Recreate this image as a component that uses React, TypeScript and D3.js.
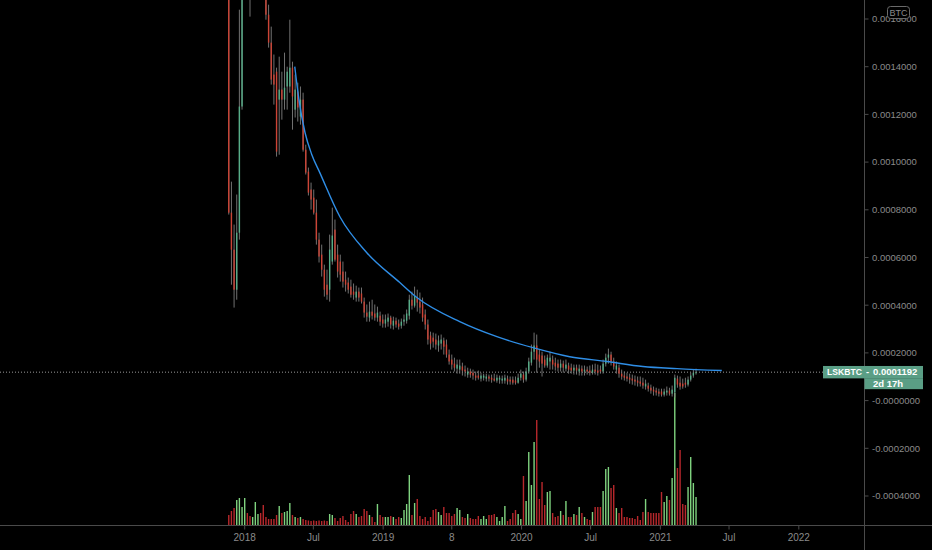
import React, { useEffect, useRef } from "react";
import * as d3 from "d3";

const WIDTH = 932;
const HEIGHT = 550;

// weekly LSK/BTC candles, prices in µBTC (1e-6 BTC)
const FIRST_WEEK = "2017-11-20";

const opens = [
  2101, 788, 633, 465, 704, 1233, 2017, 2520, 2310, 1933,
  2185, 2394, 2436, 2059, 1765, 1618, 1501, 1367, 1379, 1262,
  1304, 1262, 1317, 1317, 1396, 1220, 1296, 1191, 1262, 1052,
  960, 885, 851, 788, 675, 612, 549, 486, 465, 583,
  717, 612, 583, 541, 507, 495, 478, 457, 432, 457,
  449, 415, 369, 348, 373, 365, 348, 356, 340, 323,
  331, 348, 314, 335, 323, 314, 331, 335, 356, 423,
  398, 432, 415, 403, 361, 319, 273, 264, 256, 231,
  239, 252, 235, 193, 172, 155, 134, 130, 143, 130,
  109, 122, 117, 105, 105, 92, 96, 92, 101, 96,
  92, 84, 88, 84, 84, 92, 88, 88, 84, 75,
  96, 109, 88, 122, 159, 205, 231, 193, 189, 172,
  147, 164, 172, 159, 155, 138, 155, 134, 147, 138,
  126, 138, 122, 134, 122, 130, 126, 117, 130, 126,
  130, 122, 155, 180, 193, 164, 130, 138, 113, 105,
  101, 96, 92, 88, 84, 80, 75, 59, 63, 54,
  46, 42, 38, 38, 25, 34, 42, 29, 34, 92,
  75, 71, 75, 67, 88, 105, 117,
];

const highs = [
  2310, 918, 738, 864, 1639, 2310, 2772, 2856, 2520, 2352,
  2604, 2688, 2520, 2185, 1849, 1660, 1568, 1451, 1396, 1442,
  1379, 1459, 1400, 1597, 1421, 1367, 1333, 1317, 1291, 1073,
  977, 914, 885, 843, 704, 654, 570, 549, 696, 809,
  759, 654, 612, 583, 541, 516, 507, 491, 482, 474,
  474, 432, 403, 415, 423, 403, 394, 373, 361, 361,
  365, 356, 352, 348, 340, 344, 361, 382, 444, 457,
  478, 465, 453, 432, 382, 340, 289, 285, 281, 273,
  277, 264, 256, 214, 193, 180, 172, 172, 159, 147,
  138, 134, 130, 122, 126, 117, 113, 113, 109, 109,
  113, 109, 105, 105, 109, 105, 101, 101, 101, 113,
  130, 122, 138, 180, 235, 285, 277, 214, 205, 189,
  193, 205, 189, 180, 172, 172, 168, 172, 159, 155,
  151, 151, 151, 147, 147, 143, 147, 151, 155, 151,
  147, 172, 197, 218, 205, 180, 164, 151, 130, 122,
  117, 113, 109, 105, 101, 101, 96, 88, 75, 67,
  59, 54, 50, 50, 50, 59, 54, 63, 109, 105,
  101, 92, 96, 101, 117, 130, 134,
];

const lows = [
  780, 486, 390, 423, 675, 1220, 1975, 2185, 1610, 1807,
  2059, 2227, 1933, 1702, 1597, 1480, 1325, 1241, 1023, 1031,
  1178, 1220, 1220, 1291, 1136, 1187, 1170, 1157, 1044, 948,
  860, 801, 780, 654, 579, 520, 436, 423, 415, 570,
  583, 516, 499, 474, 457, 449, 432, 423, 415, 415,
  407, 348, 331, 331, 340, 335, 331, 314, 306, 306,
  310, 302, 298, 306, 298, 302, 314, 323, 340, 382,
  390, 373, 365, 331, 298, 235, 214, 222, 214, 205,
  214, 193, 180, 151, 130, 122, 113, 113, 105, 101,
  96, 96, 88, 84, 88, 80, 84, 80, 80, 75,
  80, 75, 71, 71, 71, 67, 67, 67, 67, 71,
  84, 75, 80, 113, 147, 172, 117, 138, 101, 138,
  138, 130, 130, 126, 122, 122, 117, 122, 113, 113,
  109, 109, 105, 105, 105, 109, 105, 109, 109, 105,
  113, 113, 143, 155, 147, 130, 113, 96, 88, 84,
  80, 71, 67, 63, 59, 59, 50, 46, 38, 29,
  21, 21, 17, 17, 17, 21, 21, 17, 13, 54,
  46, 50, 54, 59, 80, 96, 109,
];

const closes = [
  788, 633, 465, 704, 1233, 2017, 2520, 2310, 1933, 2185,
  2394, 2436, 2059, 1765, 1618, 1501, 1346, 1325, 1044, 1304,
  1262, 1312, 1379, 1396, 1275, 1304, 1229, 1262, 1052, 956,
  872, 843, 788, 675, 604, 549, 465, 444, 633, 692,
  591, 541, 528, 499, 486, 465, 444, 444, 457, 432,
  415, 369, 352, 373, 356, 348, 369, 331, 323, 340,
  348, 319, 335, 319, 310, 331, 340, 365, 423, 398,
  440, 411, 390, 348, 319, 256, 239, 247, 235, 252,
  256, 226, 193, 164, 151, 138, 151, 147, 126, 122,
  122, 109, 105, 96, 96, 105, 105, 101, 92, 88,
  84, 96, 96, 92, 96, 80, 80, 75, 75, 96,
  113, 88, 122, 164, 205, 231, 172, 164, 155, 147,
  180, 180, 151, 143, 138, 155, 138, 151, 130, 126,
  138, 126, 134, 122, 130, 122, 117, 130, 122, 117,
  122, 155, 180, 193, 164, 143, 147, 113, 101, 96,
  92, 88, 84, 80, 75, 71, 63, 71, 50, 42,
  38, 34, 29, 25, 38, 42, 29, 46, 96, 67,
  59, 59, 67, 88, 105, 117, 119.2,
];

const volumes = [
  100, 140, 170, 250, 270, 180, 270, 120, 90, 80,
  230, 110, 120, 200, 80, 60, 60, 60, 100, 190,
  120, 130, 140, 220, 100, 80, 70, 80, 60, 50,
  45, 40, 45, 40, 45, 40, 45, 40, 110, 100,
  70, 40, 70, 90, 50, 30, 110, 140, 110, 80,
  90, 160, 140, 100, 80, 30, 210, 100, 80, 80,
  80, 90, 80, 60, 80, 70, 150, 210, 500, 100,
  220, 260, 90, 60, 80, 40, 80, 150, 160, 130,
  100, 180, 120, 120, 90, 110, 170, 150, 80, 70,
  110, 70, 60, 60, 90, 60, 90, 60, 100, 100,
  110, 80, 40, 80, 190, 40, 60, 120, 150, 110,
  60, 490, 240, 730, 400, 830, 1050, 260, 430, 200,
  330, 340, 120, 80, 90, 140, 100, 240, 80, 80,
  110, 100, 180, 120, 80, 60, 50, 130, 180, 180,
  180, 340, 560, 580, 370, 400, 170, 120, 170, 80,
  80, 70, 70, 60, 90, 50, 130, 260, 130, 120,
  120, 120, 120, 330, 230, 290, 250, 470, 1320, 570,
  750, 210, 200, 380, 680, 420, 280,
];

const priceTicks = [-0.0004, -0.0002, 0, 0.0002, 0.0004, 0.0006, 0.0008, 0.001, 0.0012, 0.0014, 0.0016];
const timeTicks = ["2018-01-01", "2018-07-01", "2019-01-01", "2019-07-01", "2020-01-01", "2020-07-01", "2021-01-01", "2021-07-01", "2022-01-01"];
const timeLabels = ["2018", "Jul", "2019", "8", "2020", "Jul", "2021", "Jul", "2022"];

// the hand drawn resistance arc (µBTC)
const arcDates = ["2018-05-13", "2018-05-24", "2018-06-09", "2018-06-27", "2018-07-18", "2018-09-09", "2018-11-19", "2019-02-14", "2019-03-31", "2019-07-22", "2019-10-28", "2020-01-31", "2020-05-07", "2020-08-13", "2020-11-16", "2021-02-14", "2021-06-12"];
const arcPrices = [1400, 1262, 1124, 1031, 956, 771, 620, 495, 432, 331, 268, 222, 184, 164, 143, 134, 126];

const LAST_PRICE = 0.0001192;
const SYMBOL = "LSKBTC";
const COUNTDOWN = "2d 17h";

const UP = "#56ad88";
const DOWN = "#cc4436";
const VOL_UP = "#7fd37f";
const VOL_DOWN = "#b8282c";
const TEXT = "#8a8a8a";
const LINE = "#4a4a4a";
const FONT = "'Liberation Sans', Arial, sans-serif";

const App: React.FC = () => {
  const svgRef = useRef<SVGSVGElement | null>(null);

  useEffect(() => {
    if (!svgRef.current) return;
    const svg = d3.select(svgRef.current);
    svg.selectAll("*").remove();

    const U = 1e-6;
    const axisX = 864.5;
    const axisY = 525.5;

    const x = d3.scaleUtc()
      .domain([new Date("2018-01-01"), new Date("2022-01-01")])
      .range([244.7, 798.8]);
    const y = d3.scaleLinear().domain([-0.0004, 0.0016]).range([496, 19]);
    const yVol = d3.scaleLinear().domain([0, 1000]).range([525, 425]);

    const start = new Date(FIRST_WEEK);
    const weeks = opens.map((_, i) => d3.utcWeek.offset(start, i));

    svg.append("rect").attr("width", WIDTH).attr("height", HEIGHT).attr("fill", "#000");

    svg.append("defs").append("clipPath").attr("id", "plot")
      .append("rect").attr("x", 0).attr("y", 0).attr("width", axisX).attr("height", axisY);

    const plot = svg.append("g").attr("clip-path", "url(#plot)");

    // last price dotted line
    plot.append("line")
      .attr("x1", 0).attr("x2", 823)
      .attr("y1", y(LAST_PRICE)).attr("y2", y(LAST_PRICE))
      .attr("stroke", "#9a9a9a").attr("stroke-width", 1)
      .attr("stroke-dasharray", "1,2");

    // volume
    plot.selectAll(".vol")
      .data(volumes)
      .enter()
      .append("rect")
      .attr("x", (_, i) => x(weeks[i]) - 0.7)
      .attr("width", 1.4)
      .attr("y", (v) => yVol(v))
      .attr("height", (v) => yVol(0) - yVol(v))
      .attr("fill", (_, i) => (closes[i] >= opens[i] ? VOL_UP : VOL_DOWN));

    // candles
    const candles = plot.selectAll(".candle")
      .data(opens)
      .enter()
      .append("g");

    candles.append("line")
      .attr("x1", (_, i) => x(weeks[i]))
      .attr("x2", (_, i) => x(weeks[i]))
      .attr("y1", (_, i) => y(highs[i] * U))
      .attr("y2", (_, i) => y(lows[i] * U))
      .attr("stroke", "#7e7e7e")
      .attr("stroke-width", 0.9);

    candles.append("rect")
      .attr("x", (_, i) => x(weeks[i]) - 0.7)
      .attr("width", 1.4)
      .attr("y", (o, i) => y(Math.max(o, closes[i]) * U))
      .attr("height", (o, i) => Math.max(1, y(Math.min(o, closes[i]) * U) - y(Math.max(o, closes[i]) * U)))
      .attr("fill", (o, i) => (closes[i] >= o ? UP : DOWN));

    // arc
    const arcLine = d3.line<number>()
      .x((_, i) => x(new Date(arcDates[i])))
      .y((p) => y(p * U))
      .curve(d3.curveMonotoneX);

    plot.append("path")
      .attr("d", arcLine(arcPrices))
      .attr("fill", "none")
      .attr("stroke", "#2f8ee6")
      .attr("stroke-width", 1.4);

    // axis lines
    svg.append("line").attr("x1", 0).attr("x2", WIDTH).attr("y1", axisY).attr("y2", axisY)
      .attr("stroke", LINE);
    svg.append("line").attr("x1", axisX).attr("x2", axisX).attr("y1", 0).attr("y2", HEIGHT)
      .attr("stroke", LINE);

    // price scale
    const yAxis = svg.append("g");
    priceTicks.forEach((t) => {
      yAxis.append("line")
        .attr("x1", axisX).attr("x2", axisX + 4)
        .attr("y1", y(t)).attr("y2", y(t))
        .attr("stroke", LINE);
      yAxis.append("text")
        .attr("x", 872)
        .attr("y", y(t))
        .attr("dy", "0.35em")
        .style("font-family", FONT)
        .style("font-size", "9.5px")
        .attr("fill", TEXT)
        .text((t <= 0 ? "-" : "") + Math.abs(t).toFixed(7));
    });

    // time scale
    const xAxis = svg.append("g");
    timeTicks.forEach((d, i) => {
      const px = x(new Date(d));
      xAxis.append("line")
        .attr("x1", px).attr("x2", px)
        .attr("y1", axisY).attr("y2", axisY + 4)
        .attr("stroke", LINE);
      xAxis.append("text")
        .attr("x", px)
        .attr("y", 541)
        .attr("text-anchor", "middle")
        .style("font-family", FONT)
        .style("font-size", "10px")
        .attr("fill", TEXT)
        .text(timeLabels[i]);
    });

    // currency badge (sits over the top price label, as in TradingView)
    svg.append("rect")
      .attr("x", 887.5).attr("y", 6.5).attr("width", 22).attr("height", 12).attr("rx", 3)
      .attr("fill", "#000").attr("stroke", "#6a6a6a");
    svg.append("text")
      .attr("x", 898.5).attr("y", 12.5).attr("dy", "0.35em")
      .attr("text-anchor", "middle")
      .style("font-family", FONT).style("font-size", "9px")
      .attr("fill", TEXT)
      .text("BTC");

    // last price label
    const py = y(LAST_PRICE);
    const badge = svg.append("g");
    badge.append("rect")
      .attr("x", 823).attr("y", py - 6.2).attr("width", 100).attr("height", 12.4)
      .attr("fill", "#5a9e85");
    badge.append("rect")
      .attr("x", axisX).attr("y", py + 6).attr("width", 923 - axisX).attr("height", 11)
      .attr("fill", "#5a9e85");
    badge.append("text")
      .attr("x", 827).attr("y", py).attr("dy", "0.35em")
      .style("font-family", FONT).style("font-size", "8.6px").style("font-weight", "bold")
      .attr("fill", "#fff")
      .text(SYMBOL);
    badge.append("text")
      .attr("x", 866).attr("y", py).attr("dy", "0.35em")
      .style("font-family", FONT).style("font-size", "9.5px").style("font-weight", "bold")
      .attr("fill", "#fff")
      .text("-");
    badge.append("text")
      .attr("x", 873).attr("y", py).attr("dy", "0.35em")
      .style("font-family", FONT).style("font-size", "9.5px").style("font-weight", "bold")
      .attr("fill", "#fff")
      .text(LAST_PRICE.toFixed(7));
    badge.append("text")
      .attr("x", 873).attr("y", py + 11.5).attr("dy", "0.35em")
      .style("font-family", FONT).style("font-size", "9.5px").style("font-weight", "bold")
      .attr("fill", "#fff")
      .text(COUNTDOWN);
  }, []);

  return (
    <svg
      ref={svgRef}
      width={WIDTH}
      height={HEIGHT}
      style={{ position: "absolute", left: 0, top: 0, display: "block", background: "#000" }}
    />
  );
};

export default App;
